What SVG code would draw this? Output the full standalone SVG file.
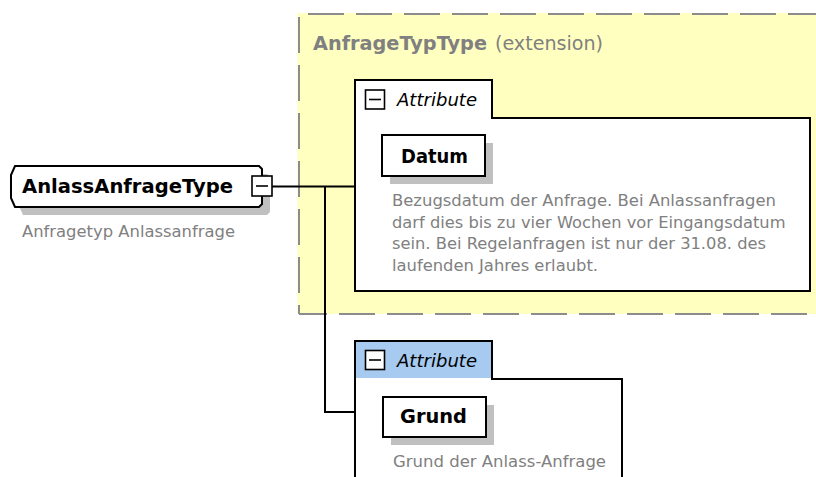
<svg xmlns="http://www.w3.org/2000/svg" width="816" height="477" viewBox="0 0 816 477">
<style>
  text { font-family: "DejaVu Sans", Verdana, sans-serif; }
  .bold { font-weight: bold; fill: #000; font-size: 19px; }
  .desc { font-size: 16px; fill: #808080; }
  .hdr { font-size: 19px; fill: #808080; }
  .ital { font-style: italic; font-size: 18px; fill: #000; }
  .box { fill: #fff; stroke: #000; stroke-width: 2; }
  .shadow { fill: #c0c0c0; }
  .dash { stroke: #8c8c8c; stroke-width: 2; stroke-dasharray: 36 12; fill: none; }
  .conn { stroke: #000; stroke-width: 2; fill: none; }
  .icon { fill: #fff; stroke: #000; stroke-width: 1.6; }
  .minus { stroke: #000; stroke-width: 1.6; }
</style>
<rect width="816" height="477" fill="#fff"/>

<g id="node-AnfrageTypType">
  <rect x="297.5" y="13" width="530" height="301" fill="#ffffc0"/>
  <line class="dash" x1="308" y1="14" x2="830" y2="14"/>
  <line class="dash" x1="299" y1="17" x2="299" y2="314"/>
  <line class="dash" x1="299" y1="314" x2="830" y2="314" stroke-dashoffset="8"/>
  <text x="313" y="50" class="hdr"><tspan font-weight="bold" textLength="174" lengthAdjust="spacingAndGlyphs">AnfrageTypType</tspan></text>
  <text x="495" y="50" class="hdr" textLength="108" lengthAdjust="spacingAndGlyphs">(extension)</text>
</g>

<g id="connectors">
  <polyline class="conn" points="272,186.5 356,186.5"/>
  <polyline class="conn" points="325,186.5 325,412 356,412"/>
</g>

<g id="node-AnlassAnfrageType">
  <path class="shadow" d="M23,174 H267 L270,177 V212 L267,215 H23 L19,206 V183 Z"/>
  <path class="box" d="M15,166 H259 L262,169 V204 L259,207 H15 L11,198 V175 Z"/>
  <text x="22" y="193" class="bold" font-size="19.5" textLength="211" lengthAdjust="spacingAndGlyphs">AnlassAnfrageType</text>
  <rect class="icon" x="252" y="176" width="20" height="20"/>
  <line class="minus" x1="256" y1="186" x2="268" y2="186"/>
  <text x="22" y="236.5" class="desc" textLength="213" lengthAdjust="spacingAndGlyphs">Anfragetyp Anlassanfrage</text>
</g>

<g id="node-attribute-1">
  <path class="box" d="M355,80 H492 V118 H810 V291 H355 Z"/>
  <rect class="icon" x="365.5" y="90" width="19" height="19"/>
  <line class="minus" x1="369" y1="99.5" x2="381" y2="99.5"/>
  <text x="397" y="106" class="ital" textLength="80" lengthAdjust="spacingAndGlyphs">Attribute</text>
</g>

<g id="node-Datum">
  <rect class="shadow" x="390" y="143" width="103" height="41"/>
  <rect class="box" x="382" y="135" width="103" height="41"/>
  <text x="401" y="163" class="bold" textLength="67" lengthAdjust="spacingAndGlyphs">Datum</text>
  <text class="desc">
    <tspan x="392" y="206" textLength="384" lengthAdjust="spacingAndGlyphs">Bezugsdatum der Anfrage. Bei Anlassanfragen</tspan>
    <tspan x="392" y="227.7" textLength="393.5" lengthAdjust="spacingAndGlyphs">darf dies bis zu vier Wochen vor Eingangsdatum</tspan>
    <tspan x="392" y="249.4" textLength="374" lengthAdjust="spacingAndGlyphs">sein. Bei Regelanfragen ist nur der 31.08. des</tspan>
    <tspan x="392" y="271.1" textLength="206" lengthAdjust="spacingAndGlyphs">laufenden Jahres erlaubt.</tspan>
  </text>
</g>

<g id="node-attribute-2">
  <path class="box" d="M355,490 V341 H492 V379 H622 V490"/>
  <rect x="356" y="342" width="135" height="36" fill="#a6caf0"/>
  <rect class="icon" x="365.5" y="350.5" width="19" height="19"/>
  <line class="minus" x1="369" y1="360" x2="381" y2="360"/>
  <text x="397" y="367" class="ital" textLength="80" lengthAdjust="spacingAndGlyphs">Attribute</text>
</g>

<g id="node-Grund">
  <rect class="shadow" x="391" y="405" width="103" height="40"/>
  <rect class="box" x="383" y="397" width="103" height="40"/>
  <text x="400" y="423" class="bold" textLength="67" lengthAdjust="spacingAndGlyphs">Grund</text>
  <text x="393" y="466.5" class="desc" textLength="213" lengthAdjust="spacingAndGlyphs">Grund der Anlass-Anfrage</text>
</g>
</svg>
